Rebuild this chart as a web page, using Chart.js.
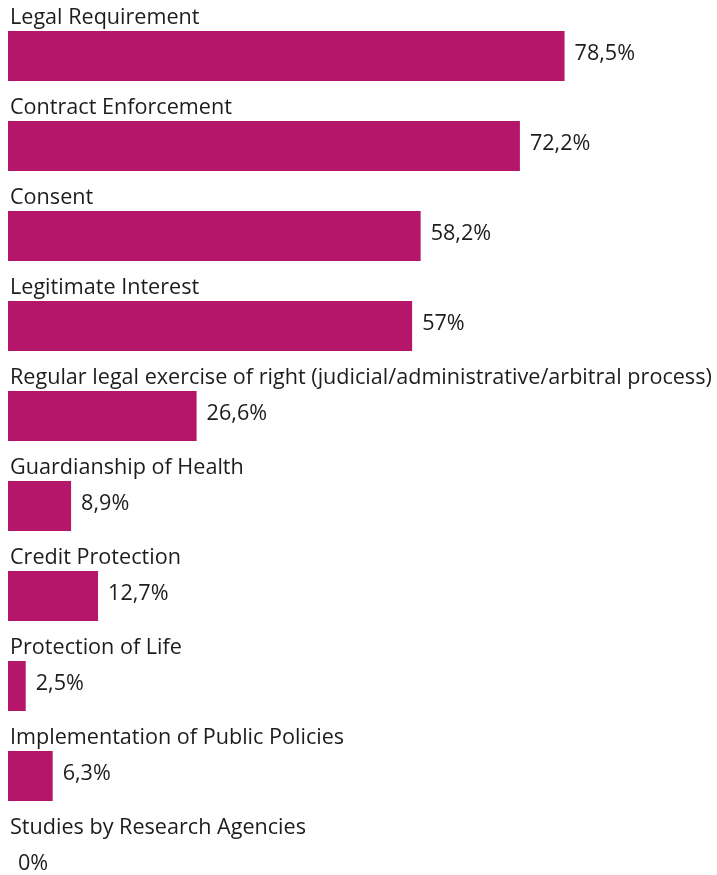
<!DOCTYPE html>
<html>
<head>
<meta charset="utf-8">
<script src="https://cdn.jsdelivr.net/npm/chart.js@4"></script>
<style>
  body { margin: 0; background: #fff; }
  .wrap { width: 717px; height: 875px; position: relative; }
</style>
</head>
<body>
<div class="wrap"><canvas id="grafico"></canvas></div>
<script>
const categories = [
  "Legal Requirement",
  "Contract Enforcement",
  "Consent",
  "Legitimate Interest",
  "Regular legal exercise of right (judicial/administrative/arbitral process)",
  "Guardianship of Health",
  "Credit Protection",
  "Protection of Life",
  "Implementation of Public Policies",
  "Studies by Research Agencies"
]
const values = [78.5, 72.2, 58.2, 57, 26.6, 8.9, 12.7, 2.5, 6.3, 0]

const barColor = "#b61669"
const textColor = "#1d1d1b"
const fontFamily = "'Open Sans', sans-serif"

function formatValue(v) {
  return String(v).replace(".", ",") + "%"
}

// labels above each bar and value to the right of it
const labelsPlugin = {
  id: "rowLabels",
  afterDatasetsDraw(chart) {
    const ctx = chart.ctx
    const meta = chart.getDatasetMeta(0)
    ctx.save()
    ctx.fillStyle = textColor
    ctx.font = "21.6px " + fontFamily
    meta.data.forEach((bar, i) => {
      const top = bar.y - bar.height / 2
      ctx.textAlign = "left"
      ctx.textBaseline = "alphabetic"
      ctx.fillText(categories[i], 10, top - 7)
      ctx.textBaseline = "middle"
      ctx.fillText(formatValue(values[i]), bar.x + 10, bar.y - 2)
    })
    ctx.restore()
  }
}

const ctx = document.getElementById("grafico")

new Chart(ctx, {
  type: "bar",
  data: {
    labels: categories,
    datasets: [{
      data: values,
      backgroundColor: barColor,
      barThickness: 50,
      inflateAmount: 0,
      borderWidth: 0,
      clip: false
    }]
  },
  options: {
    indexAxis: "y",
    responsive: true,
    maintainAspectRatio: false,
    animation: false,
    layout: { padding: { top: 56, bottom: 9, left: 8, right: 0 } },
    plugins: {
      legend: { display: false },
      tooltip: { enabled: false }
    },
    scales: {
      x: { display: false, min: 0, max: 100 },
      y: { display: false, offset: false }
    }
  },
  plugins: [labelsPlugin]
})
</script>
</body>
</html>
